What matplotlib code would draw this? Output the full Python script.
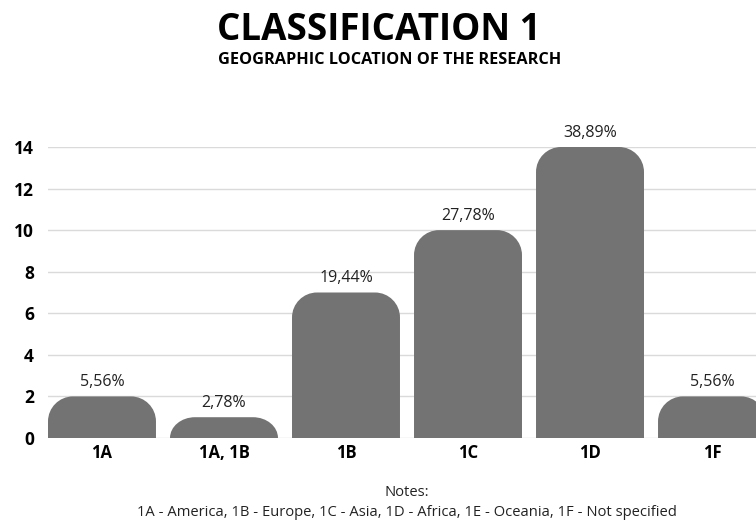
import matplotlib.pyplot as plt
from matplotlib.path import Path
from matplotlib.patches import PathPatch

categories = ["1A", "1A, 1B", "1B", "1C", "1D", "1F"]
counts = [2, 1, 7, 10, 14, 2]
percent_labels = ["5,56%", "2,78%", "19,44%", "27,78%", "38,89%", "5,56%"]
y_ticks = [0, 2, 4, 6, 8, 10, 12, 14]

BAR_COLOR = "#737373"
GRID_COLOR = "#dadada"
BAR_WIDTH = 0.885
RADIUS_PX = 25

plt.rcParams["font.family"] = ["Open Sans", "DejaVu Sans"]

W, H = 756, 523
fig = plt.figure(figsize=(W / 100, H / 100), dpi=100)
# axes runs a little past the right edge so the last bar gets clipped
left_px, right_px = 48, 766
bottom_px, top_px = 438, 147
ax = fig.add_axes([left_px / W, 1 - bottom_px / H,
                   (right_px - left_px) / W, (bottom_px - top_px) / H])
x0 = -BAR_WIDTH / 2
x1 = len(categories) - 1 + BAR_WIDTH / 2
ax.set_xlim(x0, x1)
ax.set_ylim(0, 14)

# pixel -> data scale, so the corners come out circular
px_x = (right_px - left_px) / (x1 - x0)
px_y = (bottom_px - top_px) / 14.0
k = 0.5523


def rounded_bar(xc, h):
    l, r = xc - BAR_WIDTH / 2, xc + BAR_WIDTH / 2
    rx = RADIUS_PX / px_x
    ry = min(RADIUS_PX / px_y, h)
    verts = [
        (l, 0), (l, h - ry),
        (l, h - ry + k * ry), (l + rx - k * rx, h), (l + rx, h),
        (r - rx, h),
        (r - rx + k * rx, h), (r, h - ry + k * ry), (r, h - ry),
        (r, 0), (l, 0),
    ]
    codes = [Path.MOVETO, Path.LINETO,
             Path.CURVE4, Path.CURVE4, Path.CURVE4,
             Path.LINETO,
             Path.CURVE4, Path.CURVE4, Path.CURVE4,
             Path.LINETO, Path.CLOSEPOLY]
    return PathPatch(Path(verts, codes), facecolor=BAR_COLOR, edgecolor="none", zorder=3)


for i, (c, lab) in enumerate(zip(counts, percent_labels)):
    ax.add_patch(rounded_bar(i, c))
    ax.text(i, c + 0.3, lab, ha="center", va="bottom", fontsize=11.5,
            color="#222222", clip_on=False)

ax.set_yticks(y_ticks)
ax.set_yticklabels([str(t) for t in y_ticks], fontsize=12.5, fontweight="bold")
ax.set_xticks(range(len(categories)))
ax.set_xticklabels(categories, fontsize=12, fontweight="bold")
ax.tick_params(length=0)
ax.tick_params(axis="y", pad=10)
ax.tick_params(axis="x", pad=4)
for t in ax.get_yticklabels():
    t.set_horizontalalignment("right")

ax.grid(axis="y", color=GRID_COLOR, linewidth=1, zorder=0)
ax.set_axisbelow(True)
for s in ax.spines.values():
    s.set_visible(False)

fig.text(379 / W, 1 - 30 / H, "CLASSIFICATION 1", ha="center", va="center",
         fontsize=26.5, fontweight="bold", color="black")
fig.text(390 / W, 1 - 60 / H, "GEOGRAPHIC LOCATION OF THE RESEARCH", ha="center",
         va="center", fontsize=11.7, fontweight="bold", color="black")

fig.text(407 / W, 1 - 492 / H, "Notes:", ha="center", va="center",
         fontsize=10.6, color="#222222")
fig.text(407 / W, 1 - 512 / H,
         "1A - America, 1B - Europe, 1C - Asia, 1D - Africa, 1E - Oceania, 1F - Not specified",
         ha="center", va="center", fontsize=10.6, color="#222222")

fig.savefig("out.png", dpi=100)
